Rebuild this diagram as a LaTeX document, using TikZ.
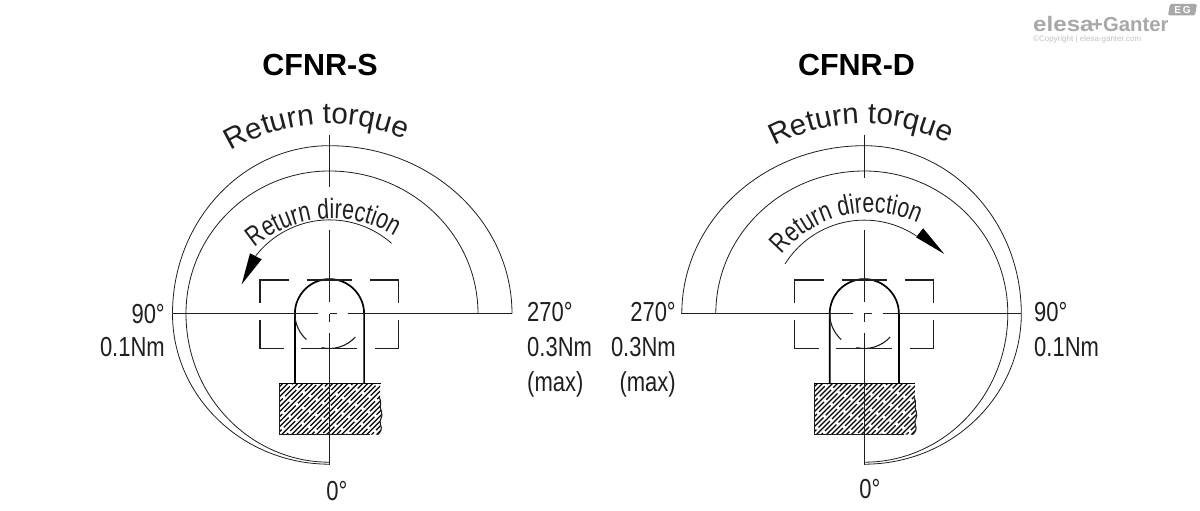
\documentclass[tikz,border=0pt]{standalone}
\usepackage{fontspec}
\setmainfont{Liberation Sans}
\newfontfamily\narrowf[FakeStretch=0.8]{Liberation Sans}
\newfontfamily\dirf[FakeStretch=0.76]{Liberation Sans}
\newfontfamily\wideb[FakeStretch=1.15]{Liberation Sans}
\newcommand{\lblfont}{\narrowf\fontsize{27.5}{32}\selectfont}
\newcommand{\torquefont}{\fontsize{29.5}{30}\selectfont}
\newcommand{\dirfont}{\dirf\fontsize{28}{30}\selectfont}
\usetikzlibrary{decorations.text}
\definecolor{ink}{gray}{0.12}
\definecolor{logo}{gray}{0.66}
\tikzset{
  thinarc/.style={draw=ink,line width=0.8pt},
  centre/.style={draw=ink,line width=1.1pt},
  dashbox/.style={draw=ink,line width=1.1pt},
  knobline/.style={draw=black,line width=1.7pt},
  hatchline/.style={draw=black,line width=1.2pt},
  lbl/.style={inner sep=0pt,text=ink,font=\lblfont},
  title/.style={inner sep=0pt,text=black,font=\fontsize{30.5}{34}\selectfont\bfseries},
}
\newcommand{\arcset}{
  \draw[thinarc] (182.5,0) arc[start angle=0,end angle=90,x radius=182.5,y radius=168];
  \draw[thinarc] (-157,0) arc[start angle=180,end angle=90,x radius=157,y radius=168];
  \draw[thinarc] (-157,0) arc[start angle=180,end angle=270,x radius=157,y radius=150.5];
  \draw[thinarc] (148.5,0) arc[start angle=0,end angle=90,x radius=148.5,y radius=142.7];
  \draw[thinarc] (-143.5,0) arc[start angle=180,end angle=90,x radius=143.5,y radius=142.7];
  \draw[thinarc] (-143.5,0) arc[start angle=180,end angle=270,x radius=143.5,y radius=148.5];
}
% #1 lower end of the upper centre line, #2 and #3 ends of the horizontal line
\newcommand{\knobset}[3]{
  \begin{scope}
    \clip (-50.2,-69.6) -- (50.5,-69.6) -- (50.5,-84) .. controls (53,-90) and (49,-92) .. (52,-98)
      .. controls (54,-104) and (49,-106) .. (51,-111) .. controls (53,-115) and (51,-119) .. (48,-121) -- (-50.2,-121) -- cycle;
    \foreach \k [evaluate=\k as \xx using {-112+\k*5.0}] in {0,...,34} {
      \pgfmathtruncatemacro{\ph}{mod(\k*17,29)}
      \draw[hatchline,dash pattern=on 26pt off 3pt,dash phase=\ph pt] (\xx,-125) -- ++(60,60);
    }
  \end{scope}
  \draw[centre] (50,-84) .. controls (53,-90) and (49,-92) .. (52,-98)
      .. controls (54,-104) and (49,-106) .. (51,-111) .. controls (53,-115) and (51,-119) .. (48,-121);
  \draw[centre] (-50.2,-69.6) -- (-50.2,-121) -- (40,-121);
  \draw[knobline,line width=1.2pt] (-50.2,-69.6) -- (51,-69.6);
  \draw[knobline] (-34.6,-69.6) -- (-34.6,0) arc[start angle=180,end angle=0,radius=34.6] -- (34.6,-69.6);
  \draw[centre] (-34.6,0) arc[start angle=180,end angle=228,radius=34.8];
  \draw[centre] (257:34.8) arc[start angle=257,end angle=318,radius=34.8];
  \draw[dashbox] (-69.5,10.7) -- (-69.5,33.7) -- (-40.5,33.7);
  \draw[dashbox] (-22.5,33.7) -- (22.5,33.7);
  \draw[dashbox] (40.5,33.7) -- (69.2,33.7) -- (69.2,10.7);
  \draw[dashbox] (-69.5,-6.3) -- (-69.5,-35) -- (-45.5,-35);
  \draw[dashbox] (-28.5,-35) -- (27.5,-35);
  \draw[dashbox] (45.5,-35) -- (69.2,-35) -- (69.2,-6.3);
  \draw[centre] (0,178.7) -- (0,#1);
  \draw[centre] (0,83.7) -- (0,11.7);
  \draw[centre] (0,0) -- (0,-8.3);
  \draw[centre] (0,-19.3) -- (0,-151.3);
  \draw[centre] (0,0) -- (7.2,0);
  \draw[centre] (18.5,0) -- (#3,0);
  \draw[centre] (#2,0) -- (-11.2,0);
}
\begin{document}
\begin{tikzpicture}[x=1pt,y=1pt]
\useasboundingbox (0,0) rectangle (1200,511);

% ---------- left view
\begin{scope}[shift={(329.5,197.3)}]
  \arcset
  \knobset{126.7}{-157}{182.5}
  \draw[thinarc] (62,70.4) arc[start angle=48.6,end angle=142,radius=93.7];
  \fill[black] (-87.8,29.4) -- (-79.5,60.4) -- (-67.8,54.4) -- cycle;
  \path[decorate,decoration={text along path,text align=center,
     text={|\color{ink}\dirfont|Return direction}}]
     (3,-25) ++(133:120) arc[start angle=133,end angle=56,radius=120];
  \path[decorate,decoration={text along path,text align=center,
     text={|\color{ink}\torquefont|Return torque}}]
     (126:190) arc[start angle=126,end angle=62,radius=190];
\end{scope}

% ---------- right view
\begin{scope}[shift={(864.3,197.3)}]
  \begin{scope}[xscale=-1]\arcset\end{scope}
  \knobset{135.7}{-183}{157}
  \draw[thinarc] (-79.3,49.7) arc[start angle=147.9,end angle=56.3,radius=93.6];
  \fill[black] (80,59.7) -- (58.9,85.4) -- (51.7,76.4) -- cycle;
  \path[decorate,decoration={text along path,text align=center,
     text={|\color{ink}\dirfont|Return direction}}]
     (6,-14) ++(146:115) arc[start angle=146,end angle=60,radius=115];
  \path[decorate,decoration={text along path,text align=center,
     text={|\color{ink}\torquefont|Return torque}}]
     (122:190) arc[start angle=122,end angle=60,radius=190];
\end{scope}

% ---------- titles
\node[title] (titleS) at (320,446) {CFNR-S};
\node[title] (titleD) at (856.5,446) {CFNR-D};

% ---------- left labels
\node[lbl,anchor=east] (l90) at (165,197) {90°};
\node[lbl,anchor=east] (l01) at (165,164) {0.1Nm};
\node[lbl,anchor=west] (l270) at (527,199) {270°};
\node[lbl,anchor=west] (l03) at (527,164) {0.3Nm};
\node[lbl,anchor=west] (lmax) at (527,127) {(max)};
\node[lbl] (l0) at (337,20) {0°};

% ---------- right labels
\node[lbl,anchor=east] (r270) at (676,199) {270°};
\node[lbl,anchor=east] (r03) at (676,164) {0.3Nm};
\node[lbl,anchor=east] (rmax) at (676,127) {(max)};
\node[lbl,anchor=west] (r90) at (1034,199) {90°};
\node[lbl,anchor=west] (r01) at (1034,164) {0.1Nm};
\node[lbl] (r0) at (870,22) {0°};

% ---------- logo
\node[inner sep=0pt,anchor=west,text=logo,font=\wideb\fontsize{21}{22}\selectfont\bfseries] (logoa) at (1033,486.5) {elesa};
\node[inner sep=0pt,anchor=west,text=logo,font=\fontsize{20.3}{22}\selectfont\bfseries] (logob) at (1091,486) {+Ganter};
\node[inner sep=0pt,anchor=west,text=logo!70,font=\fontsize{8}{9}\selectfont] (logoc) at (1033,472) {©Copyright | elesa-ganter.com};
\fill[logo,rounded corners=1.5pt] (1170,507) -- (1197,507) -- (1195,495.5) -- (1168,495.5) -- cycle;
\node[inner sep=0pt,text=white,font=\fontsize{10}{11}\selectfont\bfseries] (logod) at (1182.5,501) {E\,G};
\end{tikzpicture}
\end{document}
